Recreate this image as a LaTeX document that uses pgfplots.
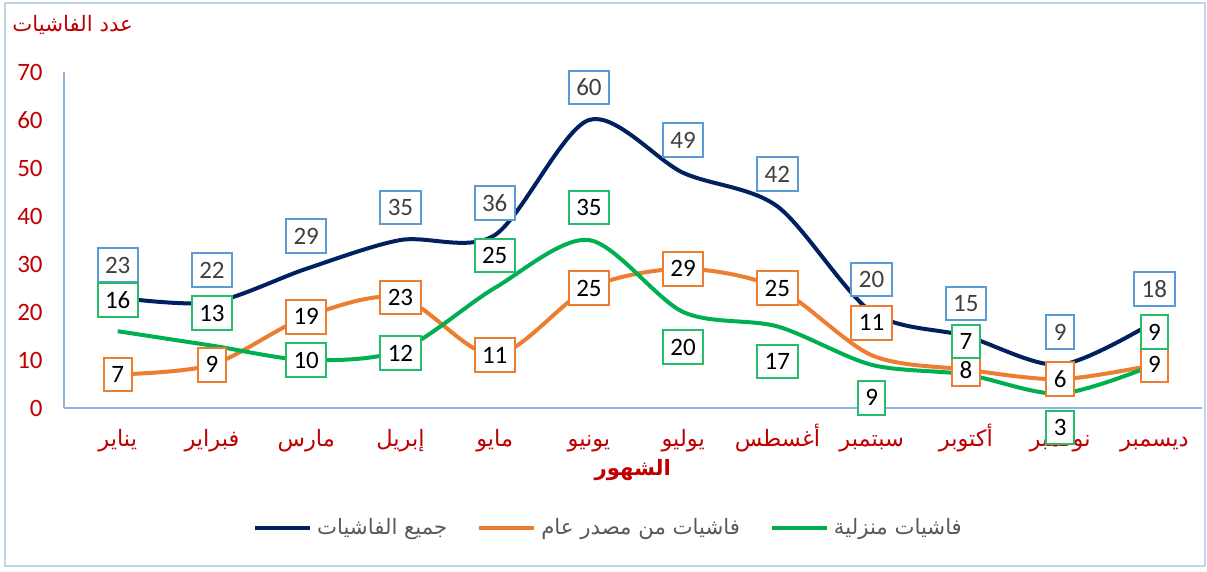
\documentclass[border=0pt]{standalone}
\usepackage{fontspec}
\setmainfont{Carlito}
\newfontfamily\arabicfont[Script=Arabic]{DejaVu Sans}
\TeXXeTstate=1
\usepackage{pgfplots}
\usepackage{pgfplotstable}
\pgfplotsset{compat=1.18}
\definecolor{navy}{HTML}{002060}
\definecolor{orng}{HTML}{ED7D31}
\definecolor{grn}{HTML}{00B050}
\definecolor{boxblue}{HTML}{5B9BD5}
\definecolor{axred}{HTML}{C00000}
\definecolor{axblue}{HTML}{8FB4E3}
\definecolor{framecol}{HTML}{BDD7EE}
\definecolor{txtgray}{HTML}{404040}
\definecolor{leggray}{HTML}{595959}
\newcommand\ar[1]{{\arabicfont\beginR #1\endR}}

% month index, values, label offsets (pt)
\pgfplotstableread{
x all pub home oa op oh
0  23  7 16 13  0 12.5
1  22  9 13 13  0 13
2  29 19 10 13  0 0
3  35 23 12 13  0 -1
4  36 11 25 13  0 13
5  60 25 35 13  0 13
6  49 29 20 13  0 -14
7  42 25 17 13  0 -14
8  20 11  9 13 13 -13.2
9  15  8  7 13  0 13.2
10  9  6  3 13  0 -13.6
11 18  9  9 13  0 13
}\data

\tikzset{
  lbl/.style={fill=white, font=\fontsize{10}{12}\selectfont, minimum height=13.5pt,
              inner xsep=3pt, inner ysep=1pt, line width=0.8pt},
}

\begin{document}
\begin{tikzpicture}
\useasboundingbox (-25.6pt,-65.2pt) rectangle (457.2pt,163.2pt);
\begin{axis}[
  scale only axis, width=455pt, height=134.4pt,
  xmin=-0.57, xmax=11.5, ymin=0, ymax=70,
  axis lines*=left, axis line style={axblue, line width=0.8pt},
  major tick length=0pt,
  ytick={0,10,...,70},
  xtick={0,...,11},
  xticklabels={\ar{يناير},\ar{فبراير},\ar{مارس},\ar{إبريل},\ar{مايو},\ar{يونيو},
               \ar{يوليو},\ar{أغسطس},\ar{سبتمبر},\ar{أكتوبر},\ar{نوفمبر},\ar{ديسمبر}},
  /pgf/number format/assume math mode=true,
  yticklabel style={text=axred, font=\fontsize{10}{12}\selectfont, xshift=-5pt},
  xticklabel style={text=axred, font=\fontsize{9}{11}\selectfont, yshift=-4pt,
    text height=8pt, text depth=3pt},
  legend style={at={(0.48,0)}, anchor=center, yshift=-48pt, draw=none, fill=none,
    legend columns=3, font=\fontsize{8.5}{10}\selectfont, text=leggray,
    /tikz/every even column/.append style={column sep=10pt}},
  legend image code/.code={\draw[#1] (0pt,0pt) -- (22pt,0pt);},
  clip=false,
]
\addplot[navy, line width=1.6pt, smooth] table[x=x, y=all] {\data};
\addlegendentry{\ar{جميع الفاشيات}}
\addplot[orng, line width=1.6pt, smooth] table[x=x, y=pub] {\data};
\addlegendentry{\ar{فاشيات من مصدر عام}}
\addplot[grn, line width=1.6pt, smooth] table[x=x, y=home] {\data};
\addlegendentry{\ar{فاشيات منزلية}}

\addplot[draw=none, forget plot, nodes near coords, nodes near coords align={center},
  visualization depends on={\thisrow{oa}\as\off},
  nodes near coords style={lbl, draw=boxblue, text=txtgray, anchor=center, yshift=\off*1pt}]
  table[x=x, y=all] {\data};
\addplot[draw=none, forget plot, nodes near coords, nodes near coords align={center},
  visualization depends on={\thisrow{op}\as\off},
  nodes near coords style={lbl, draw=orng, text=black, anchor=center, yshift=\off*1pt}]
  table[x=x, y=pub] {\data};
\addplot[draw=none, forget plot, nodes near coords, nodes near coords align={center},
  visualization depends on={\thisrow{oh}\as\off},
  nodes near coords style={lbl, draw=grn!85!white, text=black, anchor=center, yshift=\off*1pt}]
  table[x=x, y=home] {\data};
\end{axis}
\node[anchor=west, inner sep=0pt, text=axred, font=\fontsize{8.5}{10}\selectfont] at (-20.8pt,153.2pt) {\ar{عدد الفاشيات}};
\node[text=axred, font=\fontsize{8.5}{10}\selectfont\bfseries] at (227.5pt,-24.8pt) {\ar{الشهور}};
\draw[framecol, line width=0.8pt] (-23.6pt,-63.2pt) rectangle (456.4pt,162pt);
\end{tikzpicture}
\end{document}
